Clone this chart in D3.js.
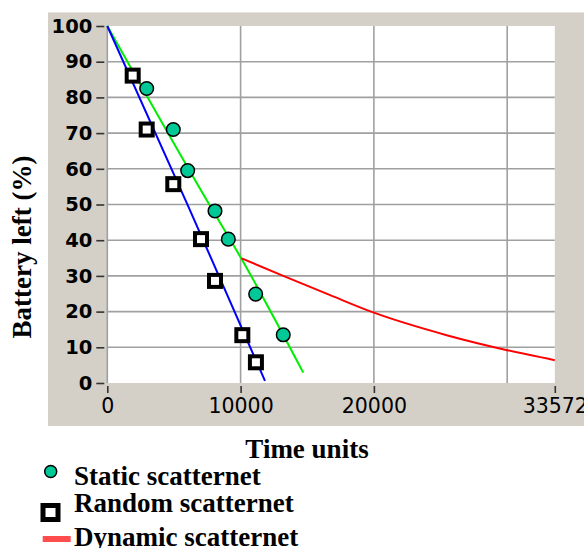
<!DOCTYPE html>
<html>
<head>
<meta charset="utf-8">
<script src="https://cdn.jsdelivr.net/npm/d3@7"></script>
<style>
  html, body { margin: 0; padding: 0; background: #fff; }
  svg { display: block; }
</style>
</head>
<body>
<svg id="chart" width="584" height="548"></svg>
<script>
/* values */
const xMax = 33572;
const xTicks = [0, 10000, 20000, 33572];
const xGrid = [0, 10000, 20000, 30000];
const yTicks = [0, 10, 20, 30, 40, 50, 60, 70, 80, 90, 100];

const staticPts = [
  [2955, 82.5], [4950, 71], [6030, 59.5], [8080, 48.2],
  [9080, 40.3], [11130, 24.9], [13200, 13.5]
];
const randomPts = [
  [1905, 86.1], [2955, 71], [4950, 55.7], [7030, 40.3],
  [8080, 28.6], [10130, 13.4], [11150, 5.8]
];
const staticLine = [[0, 100], [7650, 50], [10000, 35.2], [14700, 2.9]];
const randomLine = [[0, 100], [6075, 49.5], [11830, 0.6]];
const dynamicLine = [
  [10080, 34.9], [13200, 30], [16720, 24.6], [20000, 19.7],
  [25460, 13.4], [30000, 9.2], [33572, 6.4]
];
const legendItems = ["Static scatternet", "Random scatternet", "Dynamic scatternet"];

const svg = d3.select("#chart");
const plot = { left: 107.3, right: 554.8, top: 26, bottom: 383 };

/* gray panel behind the plot */
svg.append("rect").attr("x", 48).attr("y", 12).attr("width", 536).attr("height", 414)
  .attr("fill", "#d4d0c8");
svg.append("line").attr("x1", 48).attr("x2", 584).attr("y1", 12.5).attr("y2", 12.5)
  .attr("stroke", "#e6e3de").attr("stroke-width", 1);
svg.append("rect").attr("x", plot.left).attr("y", plot.top)
  .attr("width", plot.right - plot.left).attr("height", plot.bottom - plot.top)
  .attr("fill", "#fff");

const x = d3.scaleLinear().domain([0, xMax]).range([plot.left, plot.right]);
const y = d3.scaleLinear().domain([0, 100]).range([plot.bottom, plot.top]);

/* grid */
const grid = svg.append("g").attr("stroke", "#a0a0a0").attr("stroke-width", 1.6);
yTicks.filter(v => v > 0 && v < 100).forEach(v => {
  grid.append("line").attr("x1", plot.left).attr("x2", plot.right)
    .attr("y1", y(v)).attr("y2", y(v));
});
xGrid.forEach(v => {
  grid.append("line").attr("x1", x(v)).attr("x2", x(v))
    .attr("y1", plot.top).attr("y2", plot.bottom);
});

/* axes */
const yAxis = svg.append("g").attr("transform", `translate(${plot.left - 3},0)`)
  .call(d3.axisLeft(y).tickValues(yTicks).tickSize(8).tickPadding(4));
yAxis.select(".domain").remove();
yAxis.selectAll(".tick line").attr("stroke", "#333").attr("stroke-width", 1.6);
yAxis.selectAll(".tick text").attr("fill", "#000")
  .style("font-family", "'DejaVu Sans', sans-serif").style("font-size", "19.5px")
  .style("font-weight", "bold");

const xAxis = svg.append("g").attr("transform", `translate(0,${plot.bottom + 3})`)
  .call(d3.axisBottom(x).tickValues(xTicks).tickFormat(d3.format("d")).tickSize(7).tickPadding(5));
xAxis.select(".domain").remove();
xAxis.selectAll(".tick line").attr("stroke", "#333").attr("stroke-width", 1.6);
xAxis.selectAll(".tick text").attr("fill", "#000")
  .style("font-family", "'DejaVu Sans', sans-serif").style("font-size", "20.5px");

/* lines */
const line = d3.line().x(d => x(d[0])).y(d => y(d[1]));
svg.append("path").attr("d", line.curve(d3.curveMonotoneX)(staticLine))
  .attr("fill", "none").attr("stroke", "#00ee00").attr("stroke-width", 2);
svg.append("path").attr("d", line.curve(d3.curveLinear)(randomLine))
  .attr("fill", "none").attr("stroke", "#0000ff").attr("stroke-width", 2);
svg.append("path").attr("d", line.curve(d3.curveMonotoneX)(dynamicLine))
  .attr("fill", "none").attr("stroke", "#ff0000").attr("stroke-width", 2);

/* markers */
svg.selectAll("circle.static").data(staticPts).join("circle")
  .attr("class", "static").attr("cx", d => x(d[0])).attr("cy", d => y(d[1])).attr("r", 6.8)
  .attr("fill", "#00c896").attr("stroke", "#000").attr("stroke-width", 1.5);
svg.selectAll("rect.random").data(randomPts).join("rect")
  .attr("class", "random").attr("x", d => x(d[0]) - 6).attr("y", d => y(d[1]) - 6)
  .attr("width", 12).attr("height", 12)
  .attr("fill", "#fff").attr("stroke", "#000").attr("stroke-width", 4);

/* axis titles */
const serif = "'Liberation Serif', 'Times New Roman', serif";
svg.append("text").attr("x", 307).attr("y", 458).attr("text-anchor", "middle")
  .style("font-family", serif).style("font-size", "27px").style("font-weight", "bold")
  .text("Time units");
svg.append("text").attr("transform", "translate(31,247) rotate(-90)").attr("text-anchor", "middle")
  .style("font-family", serif).style("font-size", "27px").style("font-weight", "bold")
  .text("Battery left (%)");

/* legend */
const legend = svg.append("g");
legend.append("circle").attr("cx", 50.7).attr("cy", 471.5).attr("r", 6)
  .attr("fill", "#00c896").attr("stroke", "#000").attr("stroke-width", 1.5);
legend.append("rect").attr("x", 43).attr("y", 505.5).attr("width", 15).attr("height", 14)
  .attr("fill", "#fff").attr("stroke", "#000").attr("stroke-width", 5);
legend.append("line").attr("x1", 42.7).attr("x2", 70.7).attr("y1", 539).attr("y2", 539)
  .attr("stroke", "#ff4d4d").attr("stroke-width", 6);
legendItems.forEach((t, i) => {
  legend.append("text").attr("x", 74).attr("y", [485, 511.5, 545.5][i])
    .style("font-family", serif).style("font-size", "27px").style("font-weight", "bold")
    .text(t);
});
</script>
</body>
</html>
